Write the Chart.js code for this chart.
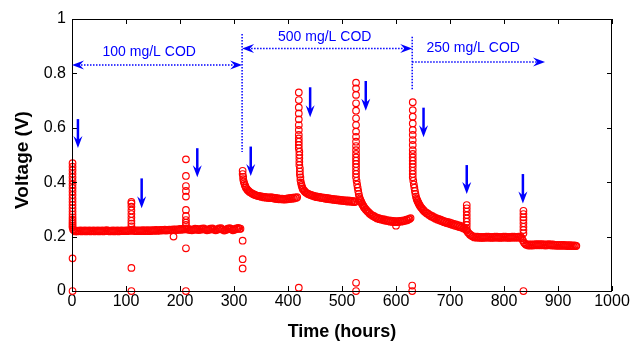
<!DOCTYPE html>
<html><head><meta charset="utf-8">
<script src="https://cdn.jsdelivr.net/npm/chart.js@4.4.0/dist/chart.umd.min.js"></script>
<style>html,body{margin:0;padding:0;background:#fff}canvas{display:block}</style>
</head><body>
<canvas id="c" width="632" height="341"></canvas>
<script>
// ---- data: [time (h), voltage (V)] ----
const spike0 = [[1,.470],[1,.457],[1,.444],[1,.431],[1,.418],[1,.405],[1,.392],[1,.379],[1,.366],[1,.353],[1,.340],[1,.328],[1,.316],[1,.304],[1,.292],[1,.281],[1,.271],[1,.262],[1,.254],[1,.247],[1,.240],[1,.234],[1,.120],[1,.000]];
const base100 = [[2,.226],[4,.223],[6,.219],[8,.222],[10,.219],[12,.222],[14,.220],[16,.223],[18,.219],[20,.222],[22,.220],[24,.223],[26,.219],[28,.222],[30,.220],[32,.223],[34,.219],[36,.222],[38,.220],[40,.223],[42,.219],[44,.222],[46,.220],[48,.223],[50,.219],[52,.222],[54,.220],[56,.223],[58,.219],[60,.222],[62,.221],[64,.224],[66,.220],[68,.222],[70,.219],[72,.222],[74,.220],[76,.223],[78,.219],[80,.222],[82,.220],[84,.223],[86,.219],[88,.222],[90,.220],[92,.223],[94,.220],[96,.222],[98,.220],[100,.223],[102,.220],[104,.223],[106,.221],[108,.225],[110,.222],[112,.226],[114,.221],[116,.223],[118,.220],[120,.223],[122,.220],[124,.223],[126,.220],[128,.223],[130,.221],[132,.224],[134,.220],[136,.223],[138,.221],[140,.224],[142,.220],[144,.223],[146,.221],[148,.224],[150,.221],[152,.224],[154,.222],[156,.225],[158,.221],[160,.224],[162,.222],[164,.225],[166,.222],[168,.225],[170,.223],[172,.226],[174,.222],[176,.225],[178,.223],[180,.226],[182,.223],[184,.226],[186,.224],[188,.227],[190,.224],[192,.227],[194,.224],[196,.227],[198,.225],[200,.228],[202,.225],[204,.228],[206,.226],[208,.229],[210,.227],[212,.230],[214,.226],[216,.228],[218,.224],[220,.226],[222,.223],[224,.227],[226,.225],[228,.229],[230,.226],[232,.228],[234,.224],[236,.227],[238,.225],[240,.229],[242,.227],[244,.230],[246,.226],[248,.227],[250,.223],[252,.226],[254,.225],[256,.229],[258,.227],[260,.230],[262,.226],[264,.227],[266,.223],[268,.226],[270,.226],[272,.230],[274,.228],[276,.231],[278,.226],[280,.226],[282,.222],[284,.225],[286,.225],[288,.229],[290,.228],[292,.231],[294,.227],[296,.228],[298,.223],[300,.226],[302,.226],[304,.230],[306,.229],[308,.232],[310,.228],[312,.229]];
const spike110 = [[110,.328],[110,.322],[110,.310],[110,.296],[110,.283],[110,.270],[110,.258],[110,.248],[110,.238],[110,.085],[110,.000]];
const spike211 = [[211,.484],[211,.423],[211,.386],[211,.368],[211,.347],[211,.298],[211,.276],[211,.261],[211,.251],[211,.243],[211,.157],[211,.000],[188,.200]];
const drop316 = [[316,.185],[316,.117],[316,.083]];
const curve500a = [[316,.442],[316,.430],[317,.420],[317,.411],[318,.403],[319,.396],[320,.390],[321,.385],[322,.380],[324,.375],[325,.371],[327,.368],[329,.364],[331,.362],[333,.359],[335,.357],[337,.355],[339,.353],[341,.352],[343,.350],[345,.350],[347,.348],[349,.349],[351,.346],[353,.347],[355,.344],[357,.346],[359,.343],[361,.345],[363,.342],[365,.344],[367,.341],[369,.345],[371,.341],[373,.343],[375,.339],[377,.342],[379,.338],[381,.341],[383,.337],[385,.340],[387,.337],[389,.340],[391,.336],[393,.339],[395,.336],[397,.340],[399,.337],[401,.341],[403,.338],[405,.342],[407,.339],[409,.343],[411,.340],[413,.344],[415,.342],[417,.345]];
const curve500b = [[420,.730],[420,.702],[420,.675],[420,.653],[420,.631],[420,.610],[420,.592],[420,.574],[420,.561],[420,.549],[420,.537],[420,.525],[421,.512],[421,.500],[421,.488],[421,.475],[421,.463],[422,.451],[422,.439],[422,.428],[423,.418],[423,.408],[424,.398],[425,.390],[426,.383],[427,.377],[428,.373],[430,.369],[431,.366],[433,.362],[435,.360],[437,.357],[439,.356],[441,.353],[443,.353],[445,.350],[447,.351],[449,.347],[451,.349],[453,.345],[455,.347],[457,.344],[459,.346],[461,.342],[463,.344],[465,.341],[467,.343],[469,.339],[471,.342],[473,.338],[475,.341],[477,.337],[479,.340],[481,.336],[483,.339],[485,.335],[487,.338],[489,.334],[491,.337],[493,.333],[495,.336],[497,.332],[499,.335],[501,.331],[503,.334],[505,.330],[507,.333],[509,.329],[511,.333],[513,.329],[515,.332],[517,.328],[519,.331],[521,.327],[523,.330],[524,.327],[420,.012]];
const curve500c = [[526,.766],[526,.745],[526,.721],[526,.690],[526,.663],[526,.635],[526,.610],[526,.586],[526,.567],[526,.549],[526,.533],[526,.518],[526,.504],[526,.491],[526,.479],[526,.467],[526,.455],[526,.442],[526,.430],[526,.418],[527,.405],[528,.392],[529,.380],[530,.368],[531,.357],[532,.347],[533,.340],[534,.335],[535,.330],[536,.326],[537,.321],[538,.318],[539,.314],[540,.311],[541,.307],[542,.305],[544,.300],[545,.298],[547,.293],[548,.292],[550,.287],[551,.286],[553,.281],[555,.280],[557,.276],[559,.276],[561,.271],[563,.272],[565,.267],[567,.269],[569,.264],[571,.266],[573,.262],[575,.264],[577,.260],[579,.263],[581,.258],[583,.261],[585,.257],[587,.260],[589,.255],[591,.259],[593,.254],[595,.258],[597,.253],[599,.257],[601,.253],[603,.257],[605,.254],[607,.258],[609,.255],[611,.259],[613,.256],[615,.260],[617,.258],[619,.262],[621,.260],[623,.264],[625,.265],[627,.268],[526,.000],[526,.030],[600,.240]];
const curve250 = [[631,.694],[631,.665],[631,.641],[631,.616],[631,.592],[631,.574],[631,.555],[631,.537],[631,.518],[631,.504],[631,.491],[631,.479],[631,.467],[631,.455],[631,.442],[631,.430],[631,.418],[632,.405],[633,.392],[634,.380],[635,.368],[636,.357],[637,.347],[638,.340],[639,.335],[640,.330],[641,.326],[642,.322],[643,.318],[644,.315],[645,.311],[647,.306],[648,.304],[650,.298],[651,.297],[653,.291],[655,.290],[657,.285],[659,.285],[661,.279],[663,.280],[665,.274],[667,.276],[669,.270],[671,.272],[673,.266],[675,.268],[677,.262],[679,.265],[681,.259],[683,.262],[685,.256],[687,.259],[689,.253],[691,.256],[693,.250],[695,.254],[697,.248],[699,.252],[701,.245],[703,.250],[705,.243],[707,.247],[709,.240],[711,.245],[713,.238],[715,.242],[717,.235],[719,.240],[721,.233],[723,.237],[725,.230],[727,.233],[729,.226],[731,.222],[733,.216],[735,.212],[737,.207],[739,.205],[741,.201],[743,.201],[745,.197],[747,.200],[749,.196],[751,.200],[753,.196],[755,.199],[757,.195],[759,.199],[761,.195],[763,.199],[765,.196],[767,.200],[769,.196],[771,.200],[773,.196],[775,.199],[777,.195],[779,.199],[781,.196],[783,.200],[785,.196],[787,.200],[789,.196],[791,.199],[793,.195],[795,.199],[797,.196],[799,.200],[801,.196],[803,.200],[805,.196],[807,.199],[809,.195],[811,.199],[813,.196],[815,.200],[817,.196],[819,.200],[821,.196],[823,.199],[825,.196],[827,.200],[829,.196],[831,.199],[833,.194],[835,.186],[837,.178],[839,.174],[841,.170],[843,.171],[845,.167],[847,.171],[849,.167],[851,.171],[853,.167],[855,.171],[857,.168],[859,.172],[861,.168],[863,.172],[865,.168],[867,.172],[869,.168],[871,.172],[873,.168],[875,.171],[877,.167],[879,.171],[881,.168],[883,.172],[885,.168],[887,.171],[889,.167],[891,.171],[893,.167],[895,.170],[897,.166],[899,.170],[901,.166],[903,.170],[905,.166],[907,.170],[909,.166],[911,.170],[913,.166],[915,.169],[917,.165],[919,.169],[921,.165],[923,.169],[925,.165],[927,.168],[929,.165],[931,.168],[933,.165],[934,.166],[630,.000],[630,.020]];
const spike730 = [[731,.316],[731,.304],[731,.292],[731,.279],[731,.267],[731,.255],[731,.243],[731,.230]];
const spike834 = [[836,.295],[836,.283],[836,.271],[836,.261],[836,.249],[836,.236],[836,.224],[836,.212],[836,.000]];

// ---- axis ticks ----
const xTicks = [0,100,200,300,400,500,600,700,800,900,1000];
const yTicks = [0,0.2,0.4,0.6,0.8,1];

// ---- annotations (data units) ----
const downArrows = [[11,.632,.526],[129,.414,.304],[232,.525,.418],[331,.531,.423],[441,.749,.639],[544,.772,.663],[651,.674,.565],[731,.463,.357],[835,.430,.322]];
const dividers = [[315,.945,.511],[630,.935,.739]];
const spans = [[0,315,.831,'both'],[315,630,.892,'both'],[630,876,.842,'right']];
const phaseLabels = [['100 mg/L COD',143,.879],['500 mg/L COD',468,.935],['250 mg/L COD',743,.892]];
const yTitle = 'Voltage (V)';

const allPts = [].concat(spike0, base100, spike110, spike211, drop316, curve500a, curve500b, curve500c, curve250, spike730, spike834).map(p => ({x:p[0], y:p[1]}));

const FONT = '"Liberation Sans", Arial, sans-serif';
const BLUE = 'rgb(0,0,255)';

function head(ctx, x, y, dx, dy, L, W){
  const px = -dy, py = dx;
  ctx.beginPath();
  ctx.moveTo(x, y);
  ctx.lineTo(x - dx*L + px*W/2, y - dy*L + py*W/2);
  ctx.lineTo(x - dx*L*0.65, y - dy*L*0.65);
  ctx.lineTo(x - dx*L - px*W/2, y - dy*L - py*W/2);
  ctx.closePath();
  ctx.fill();
}

const deco = {
  id:'deco',
  afterDatasetsDraw(chart){
    const {ctx, chartArea:a, scales:{x, y}} = chart;
    ctx.save();
    ctx.strokeStyle = '#000'; ctx.lineWidth = 1;
    ctx.strokeRect(Math.round(a.left)+0.5, Math.round(a.top)+0.5, Math.round(a.right-a.left)-1, Math.round(a.bottom-a.top));
    ctx.beginPath();
    xTicks.forEach(t => {
      const px = Math.round(x.getPixelForValue(t)) + 0.5;
      ctx.moveTo(px, a.bottom); ctx.lineTo(px, a.bottom - 5);
      ctx.moveTo(px, a.top); ctx.lineTo(px, a.top + 5);
    });
    yTicks.forEach(t => {
      const py = Math.round(y.getPixelForValue(t)) + 0.5;
      ctx.moveTo(a.left, py); ctx.lineTo(a.left + 5, py);
      ctx.moveTo(a.right, py); ctx.lineTo(a.right - 5, py);
    });
    ctx.stroke();
    // y axis title (slightly below axis centre, as in the original)
    ctx.save();
    ctx.fillStyle = '#000'; ctx.font = 'bold 19px ' + FONT; ctx.textAlign = 'center'; ctx.textBaseline = 'middle';
    ctx.translate(22.5, (a.top + a.bottom)/2 + 5); ctx.rotate(-Math.PI/2);
    ctx.fillText(yTitle, 0, 0);
    ctx.restore();
    ctx.strokeStyle = BLUE; ctx.fillStyle = BLUE;
    ctx.lineWidth = 1.5; ctx.setLineDash([1.5,1.5]);
    dividers.forEach(d => {
      const px = x.getPixelForValue(d[0]);
      ctx.beginPath(); ctx.moveTo(px, y.getPixelForValue(d[1])); ctx.lineTo(px, y.getPixelForValue(d[2])); ctx.stroke();
    });
    spans.forEach(s => {
      const x1 = x.getPixelForValue(s[0]), x2 = x.getPixelForValue(s[1]), py = y.getPixelForValue(s[2]);
      ctx.setLineDash([1.5,1.5]);
      ctx.beginPath(); ctx.moveTo(x1 + (s[3]==='both'?6:0), py); ctx.lineTo(x2 - 6, py); ctx.stroke();
      ctx.setLineDash([]);
      head(ctx, x2, py, 1, 0, 12, 9);
      if (s[3]==='both') head(ctx, x1, py, -1, 0, 12, 9);
    });
    ctx.setLineDash([]);
    downArrows.forEach(d => {
      const px = x.getPixelForValue(d[0]), y1 = y.getPixelForValue(d[1]), y2 = y.getPixelForValue(d[2]);
      ctx.lineWidth = 2.5;
      ctx.beginPath(); ctx.moveTo(px, y1); ctx.lineTo(px, y2 - 6); ctx.stroke();
      head(ctx, px, y2, 0, 1, 12, 9);
    });
    ctx.font = '14px ' + FONT; ctx.textAlign = 'center'; ctx.textBaseline = 'middle';
    phaseLabels.forEach(l => ctx.fillText(l[0], x.getPixelForValue(l[1]), y.getPixelForValue(l[2])));
    ctx.restore();
  }
};

new Chart(document.getElementById('c'), {
  type:'scatter',
  data:{ datasets:[{
    label:'Voltage', data: allPts, showLine:false, clip:false,
    pointStyle:'circle', pointRadius:3.3, pointHoverRadius:3.3,
    borderColor:'rgb(255,0,0)', backgroundColor:'rgba(0,0,0,0)', borderWidth:1.15
  }]},
  options:{
    responsive:false, animation:false, devicePixelRatio:1,
    layout:{ padding:{ top:19, right:20, left:0, bottom:0 } },
    plugins:{ legend:{display:false}, tooltip:{enabled:false} },
    scales:{
      x:{ type:'linear', min:0, max:1000,
        afterBuildTicks(s){ s.ticks = xTicks.map(v => ({value:v})); },
        afterFit(s){ s.height = 50; },
        grid:{ display:false, drawTicks:false }, border:{ display:false },
        ticks:{ color:'#000', font:{ family:FONT, size:16 }, padding:1, maxRotation:0, autoSkip:false, callback:v => String(v) },
        title:{ display:true, text:'Time (hours)', color:'#000', font:{ family:FONT, size:18, weight:'bold', lineHeight:1.2 }, padding:{ top:0, bottom:-2 } }
      },
      y:{ type:'linear', min:0, max:1,
        afterBuildTicks(s){ s.ticks = yTicks.map(v => ({value:v})); },
        afterFit(s){ s.width = 72; },
        grid:{ display:false, drawTicks:false }, border:{ display:false },
        ticks:{ color:'#000', font:{ family:FONT, size:16 }, padding:6, autoSkip:false, callback:v => String(Math.round(v*10)/10) },
        title:{ display:false }
      }
    }
  },
  plugins:[deco]
});
</script>
</body></html>
